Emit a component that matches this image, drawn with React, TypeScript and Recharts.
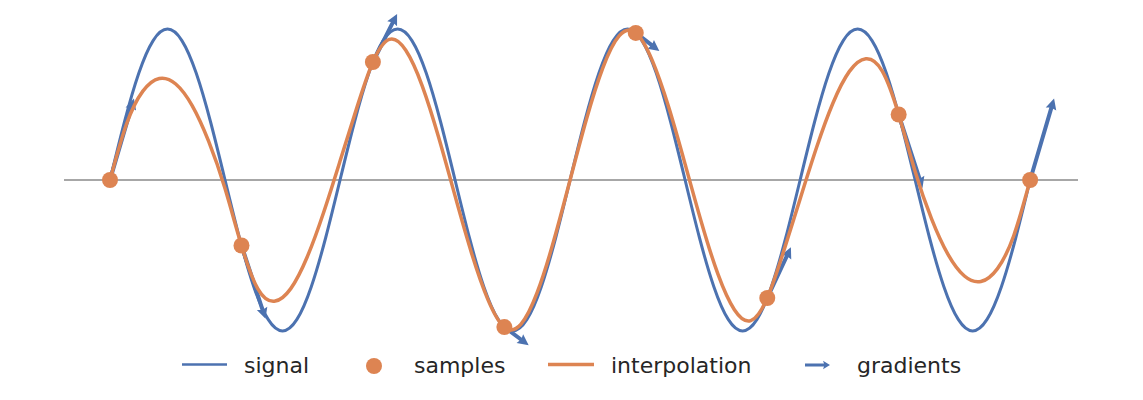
import React from 'react';
import { ComposedChart, Line, Scatter, XAxis, YAxis, ReferenceLine, Legend } from 'recharts';

// signal read at 1/16 of a period, 4 periods over t = 0..1
const signalValues = [
    0, 0.3827, 0.7071, 0.9239, 1, 0.9239, 0.7071, 0.3827,
    0, -0.3827, -0.7071, -0.9239, -1, -0.9239, -0.7071, -0.3827,
    0, 0.3827, 0.7071, 0.9239, 1, 0.9239, 0.7071, 0.3827,
    0, -0.3827, -0.7071, -0.9239, -1, -0.9239, -0.7071, -0.3827,
    0, 0.3827, 0.7071, 0.9239, 1, 0.9239, 0.7071, 0.3827,
    0, -0.3827, -0.7071, -0.9239, -1, -0.9239, -0.7071, -0.3827,
    0, 0.3827, 0.7071, 0.9239, 1, 0.9239, 0.7071, 0.3827,
    0, -0.3827, -0.7071, -0.9239, -1, -0.9239, -0.7071, -0.3827,
    0,
];

// interpolated curve read at 8 steps between each pair of samples
const interpolationValues = [
    0,
    0.3692, 0.5887, 0.6729, 0.6362, 0.4928, 0.2571, -0.0566,
    -0.4339,
    -0.7219, -0.8037, -0.7197, -0.5103, -0.2151, 0.1254, 0.4712,
    0.7818,
    0.9314, 0.8595, 0.624, 0.2831, -0.1053, -0.4832, -0.7923,
    -0.9749,
    -0.9567, -0.7452, -0.4047, 0, 0.4047, 0.7452, 0.9567,
    0.9749,
    0.7923, 0.4832, 0.1053, -0.2831, -0.624, -0.8595, -0.9314,
    -0.7818,
    -0.4712, -0.1254, 0.2151, 0.5103, 0.7197, 0.8037, 0.7219,
    0.4339,
    0.0566, -0.2571, -0.4928, -0.6362, -0.6729, -0.5887, -0.3692,
    0,
];

const sampleT = [0, 0.1429, 0.2857, 0.4286, 0.5714, 0.7143, 0.8571, 1];
const sampleValues = [0, -0.4339, 0.7818, -0.9749, 0.9749, -0.7818, 0.4339, 0];

// where each gradient arrow ends
const gradientTipT = [0.026, 0.169, 0.312, 0.455, 0.597, 0.74, 0.883, 1.026];
const gradientTipValues = [0.54, -0.92, 1.1, -1.095, 0.855, -0.446, -0.053, 0.54];

const legendLabels = ['signal', 'samples', 'interpolation', 'gradients'];

const BLUE = '#4C72B0';
const ORANGE = '#DD8452';

const signalData = signalValues.map((v, i) => ({ t: i / (signalValues.length - 1), v }));
const interpolationData = interpolationValues.map((v, i) => ({ t: i / (interpolationValues.length - 1), v }));
const sampleData = sampleT.map((t, i) => ({ t, v: sampleValues[i] }));

const arrowPoints = (x1: number, y1: number, x2: number, y2: number, shaft = 2, head = 5.5, headLen = 11) => {
    const dx = x2 - x1;
    const dy = y2 - y1;
    const len = Math.hypot(dx, dy) || 1;
    const ux = dx / len, uy = dy / len;
    const nx = -uy, ny = ux;
    const bx = x2 - ux * headLen, by = y2 - uy * headLen;
    const nbx = x2 - ux * (headLen - 1), nby = y2 - uy * (headLen - 1);
    const pts = [
        [x1 + nx * shaft, y1 + ny * shaft],
        [nbx + nx * shaft, nby + ny * shaft],
        [bx + nx * head, by + ny * head],
        [x2, y2],
        [bx - nx * head, by - ny * head],
        [nbx - nx * shaft, nby - ny * shaft],
        [x1 - nx * shaft, y1 - ny * shaft],
    ];
    return pts.map(p => p.join(',')).join(' ');
};

const ArrowShape = (props: any) => {
    const { x1, y1, x2, y2 } = props;
    if ([x1, y1, x2, y2].some(v => v == null || isNaN(v))) return null;
    return <polygon points={arrowPoints(x1, y1, x2, y2)} fill={BLUE} />;
};

const SampleDot = (props: any) => {
    const { cx, cy } = props;
    if (cx == null || cy == null) return null;
    return <circle cx={cx} cy={cy} r={8} fill={ORANGE} />;
};

const LegendContent = () => {
    const textStyle = { fontFamily: '"DejaVu Sans", sans-serif', fontSize: 22, fill: '#262626' };
    return (
        <svg width={1143} height={50} style={{ display: 'block' }}>
            <line x1={182} x2={227} y1={24.5} y2={24.5} stroke={BLUE} strokeWidth={2.5} />
            <text x={244} y={33} style={textStyle}>{legendLabels[0]}</text>
            <circle cx={374} cy={26} r={8} fill={ORANGE} />
            <text x={414} y={33} style={textStyle}>{legendLabels[1]}</text>
            <line x1={548} x2={594} y1={24.5} y2={24.5} stroke={ORANGE} strokeWidth={3.5} />
            <text x={611} y={33} style={textStyle}>{legendLabels[2]}</text>
            <polygon points={arrowPoints(805, 25, 830, 25, 1.6, 4.3, 7)} fill={BLUE} />
            <text x={857} y={33} style={textStyle}>{legendLabels[3]}</text>
        </svg>
    );
};

export default function App() {
    return (
        <div style={{ position: 'absolute', left: 0, top: 0, width: 1143, height: 400, background: '#fff' }}>
            <ComposedChart width={1143} height={400} margin={{ top: 14, right: 65, bottom: 54, left: 64 }}>
                <XAxis type="number" dataKey="t" domain={[-0.05, 1.052]} hide />
                <YAxis type="number" dataKey="v" domain={[-1.1, 1.1]} hide />
                <ReferenceLine y={0} stroke="#8a8a8a" strokeWidth={1.5} />
                <Line
                    data={signalData}
                    dataKey="v"
                    type="natural"
                    stroke={BLUE}
                    strokeWidth={3}
                    dot={false}
                    activeDot={false}
                    isAnimationActive={false}
                />
                <Scatter data={sampleData} dataKey="v" shape={<SampleDot />} isAnimationActive={false} />
                {sampleT.map((t, i) => (
                    <ReferenceLine
                        key={i}
                        segment={[
                            { x: t, y: sampleValues[i] },
                            { x: gradientTipT[i], y: gradientTipValues[i] },
                        ]}
                        ifOverflow="visible"
                        shape={ArrowShape}
                    />
                ))}
                <Line
                    data={interpolationData}
                    dataKey="v"
                    type="natural"
                    stroke={ORANGE}
                    strokeWidth={3.5}
                    dot={false}
                    activeDot={false}
                    isAnimationActive={false}
                />
                <Legend
                    layout="horizontal"
                    verticalAlign="middle"
                    align="center"
                    content={<LegendContent />}
                    wrapperStyle={{ left: 0, top: 340, width: 1143, height: 50 }}
                />
            </ComposedChart>
        </div>
    );
}
